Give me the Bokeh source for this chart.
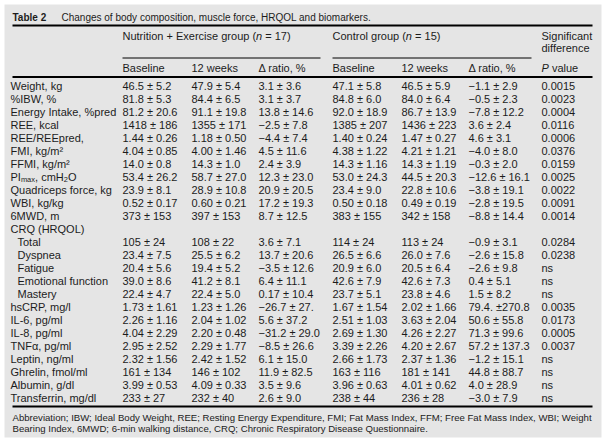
from bokeh.plotting import figure
from bokeh.models import Range1d
from bokeh.core.properties import value
from bokeh.embed import file_html
from bokeh.resources import INLINE

# ---------------- data ----------------
table_no = "Table 2"
title = "Changes of body composition, muscle force, HRQOL and biomarkers."
group_ne = "Nutrition + Exercise group (*n* = 17)"
group_ctrl = "Control group (*n* = 15)"
sub_headers = ["Baseline", "12 weeks", "Δ ratio, %", "Baseline", "12 weeks", "Δ ratio, %", "*P* value"]
sig_header = ["Significant", "difference"]

row_labels = ["Weight, kg", "%IBW, %", "Energy Intake, %pred", "REE, kcal", "REE/REEpred,",
              "FMI, kg/m²", "FFMI, kg/m²", "PI_{max}, cmH_{2}O", "Quadriceps force, kg", "WBI, kg/kg",
              "6MWD, m", "CRQ (HRQOL)", "Total", "Dyspnea", "Fatigue", "Emotional function", "Mastery",
              "hsCRP, mg/l", "IL-6, pg/ml", "IL-8, pg/ml", "TNFα, pg/ml", "Leptin, ng/ml",
              "Ghrelin, fmol/ml", "Albumin, g/dl", "Transferrin, mg/dl"]
crq_items = ["Total", "Dyspnea", "Fatigue", "Emotional function", "Mastery"]

ne_baseline = ["46.5 ± 5.2", "81.8 ± 5.3", "81.2 ± 20.6", "1418 ± 186", "1.44 ± 0.26", "4.04 ± 0.85",
               "14.0 ± 0.8", "53.4 ± 26.2", "23.9 ± 8.1", "0.52 ± 0.17", "373 ± 153", "",
               "105 ± 24", "23.4 ± 7.5", "20.4 ± 5.6", "39.0 ± 8.6", "22.4 ± 4.7", "1.73 ± 1.61",
               "2.26 ± 1.16", "4.04 ± 2.29", "2.95 ± 2.52", "2.32 ± 1.56", "161 ± 134",
               "3.99 ± 0.53", "233 ± 27"]
ne_12w = ["47.9 ± 5.4", "84.4 ± 6.5", "91.1 ± 19.8", "1355 ± 171", "1.18 ± 0.50", "4.00 ± 1.46",
          "14.3 ± 1.0", "58.7 ± 27.0", "28.9 ± 10.8", "0.60 ± 0.21", "397 ± 153", "",
          "108 ± 22", "25.5 ± 6.2", "19.4 ± 5.2", "41.2 ± 8.1", "22.4 ± 5.0", "1.23 ± 1.26",
          "2.04 ± 1.02", "2.20 ± 0.48", "2.29 ± 1.77", "2.42 ± 1.52", "146 ± 102",
          "4.09 ± 0.33", "232 ± 40"]
ne_delta = ["3.1 ± 3.6", "3.1 ± 3.7", "13.8 ± 14.6", "−2.5 ± 7.8", "−4.4 ± 7.4", "4.5 ± 11.6",
            "2.4 ± 3.9", "12.3 ± 23.0", "20.9 ± 20.5", "17.2 ± 19.3", "8.7 ± 12.5", "",
            "3.6 ± 7.1", "13.7 ± 20.6", "−3.5 ± 12.6", "6.4 ± 11.1", "0.17 ± 10.4", "−26.7 ± 27.",
            "5.6 ± 37.2", "−31.2 ± 29.0", "−8.5 ± 26.6", "6.1 ± 15.0", "11.9 ± 82.5",
            "3.5 ± 9.6", "2.6 ± 9.0"]
ctrl_baseline = ["47.1 ± 5.8", "84.8 ± 6.0", "92.0 ± 18.9", "1385 ± 207", "1.40 ± 0.24", "4.38 ± 1.22",
                 "14.3 ± 1.16", "53.0 ± 24.3", "23.4 ± 9.0", "0.50 ± 0.18", "383 ± 155", "",
                 "114 ± 24", "26.5 ± 6.6", "20.9 ± 6.0", "42.6 ± 7.9", "23.7 ± 5.1", "1.67 ± 1.54",
                 "2.51 ± 1.03", "2.69 ± 1.30", "3.39 ± 2.26", "2.66 ± 1.73", "163 ± 116",
                 "3.96 ± 0.63", "238 ± 44"]
ctrl_12w = ["46.5 ± 5.9", "84.0 ± 6.4", "86.7 ± 13.9", "1436 ± 223", "1.47 ± 0.27", "4.21 ± 1.21",
            "14.3 ± 1.19", "44.5 ± 20.3", "22.8 ± 10.6", "0.49 ± 0.19", "342 ± 158", "",
            "113 ± 24", "26.0 ± 7.6", "20.5 ± 6.4", "42.6 ± 7.3", "23.8 ± 4.6", "2.02 ± 1.66",
            "3.63 ± 2.04", "4.26 ± 2.27", "4.20 ± 2.67", "2.37 ± 1.36", "181 ± 141",
            "4.01 ± 0.62", "236 ± 28"]
ctrl_delta = ["−1.1 ± 2.9", "−0.5 ± 2.3", "−7.8 ± 12.2", "3.6 ± 2.4", "4.6 ± 3.1", "−4.0 ± 8.0",
              "−0.3 ± 2.0", "−12.6 ± 16.1", "−3.8 ± 19.1", "−2.8 ± 19.5", "−8.8 ± 14.4", "",
              "−0.9 ± 3.1", "−2.6 ± 15.8", "−2.6 ± 9.8", "0.4 ± 5.1", "1.5 ± 8.2", "79.4. ±270.8",
              "50.6 ± 55.8", "71.3 ± 99.6", "57.2 ± 137.3", "−1.2 ± 15.1", "44.8 ± 88.7",
              "4.0 ± 28.9", "−3.0 ± 7.9"]
p_values = ["0.0015", "0.0023", "0.0004", "0.0116", "0.0006", "0.0376", "0.0159", "0.0025",
            "0.0022", "0.0091", "0.0014", "", "0.0284", "0.0238", "ns", "ns", "ns", "0.0035",
            "0.0173", "0.0005", "0.0037", "ns", "ns", "ns", "ns"]

footer = ["Abbreviation; IBW; Ideal Body Weight, REE; Resting Energy Expenditure, FMI; Fat Mass Index, "
          "FFM; Free Fat Mass Index, WBI; Weight",
          "Bearing Index, 6MWD; 6-min walking distance, CRQ; Chronic Respiratory Disease Questionnaire."]

# ---------------- layout / style ----------------
FONT = "Liberation Sans"
FS = 11.0
FS_TITLE = 10.0
FS_FOOT = 9.6
BG = "#e5e5e5"
INK = "#1c1c1c"
# gray panel spans page x 4..601, y 4..437 ; data coords == page pixels
PX0, PX1, PY0, PY1 = 4, 601, 4, 437
LEFT, RIGHT = 12, 592
TITLE_X = 61
COL_X = [122, 191, 258, 332, 401, 468, 541]
Y_TITLE, Y_RULE1 = 16.5, 25
Y_HEAD1, Y_HEAD1B, Y_SUBRULE, Y_HEAD2, Y_RULE2 = 35.5, 47.5, 57.5, 67.5, 76.5
ROW_Y0, ROW_DY = 85.0, 13.0

# Arial / Liberation Sans advance widths (per 1000 em)
_AW = {' ': 278, '!': 278, '%': 889, '(': 333, ')': 333, '+': 584, ',': 278, '-': 333, '.': 278,
       '/': 278, ';': 278, '=': 584, '±': 584, '−': 584, 'Δ': 668, 'α': 578, '²': 333}
for c in "0123456789":
    _AW[c] = 556
_AW.update(dict(zip("ABCDEFGHIJKLMNOPQRSTUVWXYZ",
                    [667, 667, 722, 722, 667, 611, 778, 722, 278, 500, 667, 556, 833, 722, 778,
                     667, 778, 722, 667, 611, 722, 667, 944, 667, 667, 611])))
_AW.update(dict(zip("abcdefghijklmnopqrstuvwxyz",
                    [556, 556, 500, 556, 556, 278, 556, 556, 222, 222, 500, 222, 833, 556, 556,
                     556, 556, 333, 500, 278, 556, 500, 722, 500, 500, 500])))


def tw(s, size):
    return sum(_AW.get(c, 556) for c in s) * size / 1000.0


def parse(s):
    """split into (text, kind) pieces; kind in normal / italic / sub"""
    out, i, buf = [], 0, ""
    while i < len(s):
        if s.startswith("_{", i):
            if buf:
                out.append((buf, "normal")); buf = ""
            j = s.index("}", i)
            out.append((s[i + 2:j], "sub")); i = j + 1
        elif s[i] == "*":
            if buf:
                out.append((buf, "normal")); buf = ""
            j = s.index("*", i + 1)
            out.append((s[i + 1:j], "italic")); i = j + 1
        else:
            buf += s[i]; i += 1
    if buf:
        out.append((buf, "normal"))
    return out


W = PX1 + 2
H = PY1 + 3
p = figure(width=W, height=H, output_backend="svg", toolbar_location=None,
           x_range=Range1d(PX0, PX1), y_range=Range1d(PY1, PY0),
           x_axis_location=None, y_axis_location=None,
           min_border_left=PX0, min_border_top=PY0, min_border_right=2, min_border_bottom=3)
p.grid.visible = False
p.background_fill_color = BG
p.border_fill_color = "white"
p.outline_line_color = None

store = {}


def add(x, y, t, size=FS, style="normal", dy=0.0):
    lead = len(t) - len(t.lstrip(" "))
    x += tw(t[:lead], size)
    t = t.strip(" ")
    if not t:
        return
    key = (size, style)
    d = store.setdefault(key, {"x": [], "y": [], "t": []})
    d["x"].append(x); d["y"].append(y + dy); d["t"].append(t)


def add_rich(x, y, s, size=FS, style="normal"):
    for txt, kind in parse(s):
        if kind == "sub":
            ss = size * 0.68
            add(x, y, txt, ss, style, dy=3.0)
            x += tw(txt, ss)
        elif kind == "italic":
            add(x, y, txt, size, "italic")
            x += tw(txt, size)
        else:
            add(x, y, txt, size, style)
            x += tw(txt, size)


# title
add(LEFT, Y_TITLE, table_no, FS_TITLE, "bold")
add(TITLE_X, Y_TITLE, title, FS_TITLE)
# headers
add_rich(COL_X[0], Y_HEAD1, group_ne)
add_rich(COL_X[3], Y_HEAD1, group_ctrl)
add(COL_X[6], Y_HEAD1, sig_header[0])
add(COL_X[6], Y_HEAD1B, sig_header[1])
for x, h in zip(COL_X, sub_headers):
    add_rich(x, Y_HEAD2, h)

# body
columns = [ne_baseline, ne_12w, ne_delta, ctrl_baseline, ctrl_12w, ctrl_delta, p_values]
crq_at = row_labels.index("CRQ (HRQOL)")
for i, lab in enumerate(row_labels):
    y = ROW_Y0 + i * ROW_DY
    indent = 7 if (lab in crq_items and i > crq_at) else 0
    add_rich(10 + indent, y, lab)
    for x, col in zip(COL_X, columns):
        if col[i]:
            add(x, y, col[i])

y_last = ROW_Y0 + (len(row_labels) - 1) * ROW_DY
Y_RULE3 = y_last + 9
add(LEFT, Y_RULE3 + 10.5, footer[0], FS_FOOT)
add(LEFT, Y_RULE3 + 21.5, footer[1], FS_FOOT)

for (size, style), d in store.items():
    p.text(x=d["x"], y=d["y"], text=d["t"], text_font=value(FONT),
           text_font_size=f"{size:.2f}px", text_font_style=style,
           text_baseline="middle", text_align="left", text_color=INK)

# rules
p.segment(x0=[LEFT, LEFT, LEFT], y0=[Y_RULE1, Y_RULE2, Y_RULE3],
          x1=[RIGHT, RIGHT, RIGHT], y1=[Y_RULE1, Y_RULE2, Y_RULE3],
          line_color="#000000", line_width=2)
p.segment(x0=[COL_X[0], COL_X[3]], y0=[Y_SUBRULE, Y_SUBRULE],
          x1=[COL_X[3] - 12, COL_X[6] - 10], y1=[Y_SUBRULE, Y_SUBRULE],
          line_color="#000000", line_width=1)

open("out.html", "w").write(file_html(p, INLINE))
